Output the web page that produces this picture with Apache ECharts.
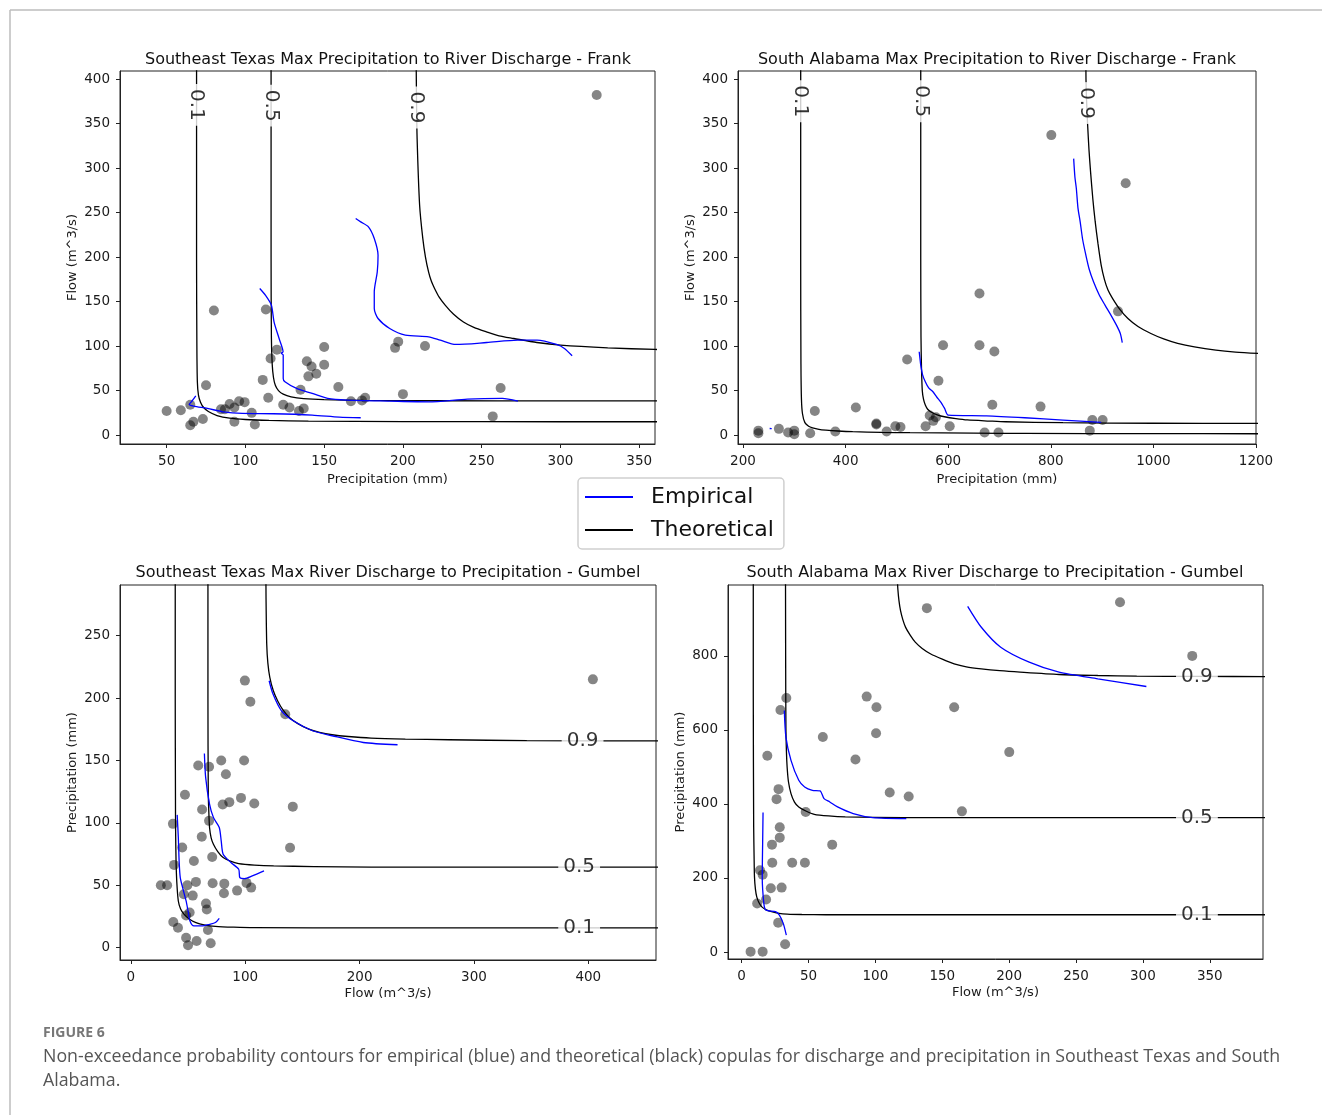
<!DOCTYPE html>
<html>
<head>
<meta charset="utf-8">
<title>Figure 6</title>
<script src="https://cdn.jsdelivr.net/npm/echarts@6/dist/echarts.min.js"></script>
<style>
    html, body { margin: 0; padding: 0; background: #fff; }
    #main { width: 1322px; height: 1115px; }
</style>
</head>
<body>
<div id="main"></div>
<script>
// tick labels
var txPrecipTicksX = [50, 100, 150, 200, 250, 300, 350];
var alPrecipTicksX = [200, 400, 600, 800, 1000, 1200];
var flowTicksY = [0, 50, 100, 150, 200, 250, 300, 350, 400];
var txFlowTicksX = [0, 100, 200, 300, 400];
var alFlowTicksX = [0, 50, 100, 150, 200, 250, 300, 350];
var txPrecipTicksY = [0, 50, 100, 150, 200, 250];
var alPrecipTicksY = [0, 200, 400, 600, 800];

// panel 1 : Southeast Texas, precipitation -> discharge (Frank)
var txFrankObs = [[323,382],[80,140],[113,141],[75,56],[50,27],[59,28],[65,34],[65,11],[67,15],[73,18],
    [84.5,29],[87,29],[90,35],[93,31],[93,15],[96,38],[99.5,37],[104,25],[106,12],[111,62],[114.5,42],
    [116,86],[120,96],[124,34],[128,31],[134,27],[137,30],[135,51],[139,83],[142,77],[140,66],[145,69],
    [150,99],[150,79],[159,54],[167,38],[174,39],[176,42],[195,98],[197,105],[214,100],[200,46],[257,21],[262,53]];
var txFrankTheo01 = [[69,420],[69,200],[69.2,100],[69.5,60],[70.2,45],[71.5,37],[73.5,31],[76.5,26.5],[82,22],
    [90,19],[100,17.5],[115,16.5],[140,15.7],[200,15.2],[300,15],[370,15]];
var txFrankTheo05 = [[116.3,420],[116.3,200],[116.5,110],[117,80],[117.8,65],[119,56],[121,50],[124,46],[129,43],
    [137,41],[150,39.8],[175,39],[220,38.6],[300,38.4],[370,38.4]];
var txFrankTheo09 = [[208.4,420],[208.6,380],[209,333],[210.6,258],[212.6,221],[214.3,200],[216.3,183],[218,173],
    [220,165],[223,155],[226.8,146],[232,136],[238.4,127],[245,121],[253,116],[261,111.5],[270.4,108.5],
    [285,104],[300,101],[330,98],[360,96.2],[370,96]];
var txFrankEmp01 = [[68.5,44],[66,38],[64.3,34.4],[67.2,32.6],[75.9,30],[85.7,26.2],[98,24.3],[117.7,24],
    [142.4,22.5],[159.6,20.2],[173.2,19.5]];
var txFrankEmp05 = [[109.1,164.7],[112.8,157],[116.5,146],[118.2,127],[121.4,108.5],[123.9,93.6],[122.8,92],
    [124,90],[124,63.6],[125.1,60],[132.5,52.4],[142.4,46.8],[152.2,41.2],[164.5,39.3],[191.6,38.2],
    [216.3,37.4],[240.9,40.4],[263.1,41.2],[273,38.2]];
var txFrankEmp09 = [[170,243.3],[173.2,239.5],[178.1,233.9],[181.8,220.8],[184.2,202],[183.7,183.4],[181.8,161],
    [181.8,142.2],[184.2,131],[191.6,119.8],[201.5,112.3],[216.3,110.4],[223.7,106.7],[233.5,101.8],
    [253.2,104],[272.9,106.7],[285.2,106.7],[297.5,101.8],[302.5,97.3],[307.4,89.1]];
var txFrankLabels = [[69,371,'0.1'],[116.3,370,'0.5'],[208.4,368,'0.9']];

// panel 2 : South Alabama, precipitation -> discharge (Frank)
var alFrankObs = [[801,337],[946,283],[931,139],[661,159],[661,101],[590,101],[690,94],[520,85],[581,61],
    [686,34],[780,32],[420,31],[340,27],[230,5],[230,2],[270,7],[288,3],[300,5],[300,1],[331,2],[380,4],
    [460,13],[460,12],[480,4],[497,10],[507,9],[556,10],[564,22],[571,16],[576,20],[603,10],[671,3],
    [698,3],[876,5],[881,17],[901,17]];
var alFrankTheo01 = [[312.5,420],[312.5,200],[313,80],[314,40],[316,24],[320.7,14],[328,10],[335.6,8.2],
    [348,6.5],[361.7,5.6],[385,4.6],[413.9,3.8],[470,3.1],[525.6,2.7],[650,2.2],[749.2,1.9],[1000,1.6],[1210,1.5]];
var alFrankTheo05 = [[546.5,420],[546.5,200],[547,110],[548,75],[549.5,50],[552,40],[555.4,33.7],[560,29],
    [566.6,26],[580,22.5],[592.7,20.6],[615,18.5],[637.4,17],[680,15.8],[711.9,15],[823.7,13.9],[1000,13.3],[1210,13.1]];
var alFrankTheo09 = [[868.4,420],[868.6,400],[869.5,380],[871.5,352],[874.5,320],[877.5,296],[882,265],[886.5,240],
    [892,215],[898.2,191],[904.5,175],[911.5,163],[920.6,153.4],[935,141],[950.4,131],[970,122],[995.1,114.1],
    [1020,108],[1047.2,103],[1080,99],[1121.8,95.4],[1160,93.3],[1210,91.6]];
var alFrankEmp01 = [[252,7.4],[256,7.2]];
var alFrankEmp05 = [[543.5,93.6],[545,86],[546.5,78.6],[550,68],[555.4,59.9],[562,53],[570.3,48.7],[578,42.5],
    [585.2,37.4],[593,30],[600.1,22.5],[674.7,21.7],[749.2,19.5],[823.7,16.8],[898.2,14.2]];
var alFrankEmp09 = [[844.6,310.6],[847,290],[849.8,277],[853,255],[857.3,239.5],[862,220],[868.4,202.1],
    [875,186],[883.3,172.2],[894,158],[905.7,146],[918,134],[928,123.5],[935.5,114.1],[939.3,104]];
var alFrankLabels = [[312.5,375,'0.1'],[546.5,375,'0.5'],[868.4,373,'0.9']];

// panel 3 : Southeast Texas, discharge -> precipitation (Gumbel)
var txGumbelObs = [[404,215],[99.7,214],[104.5,197],[135,187],[141.6,113],[139.2,80],[79,150],[99,150],
    [58.9,146],[68.4,145],[83.1,139],[47.3,122.5],[96.3,120],[86.1,116.6],[80.3,114.7],[107.9,115.5],
    [62.3,110.7],[68.4,101.6],[36.8,99.2],[62,88.8],[44.9,80.2],[71.1,72.7],[37.8,66.3],[55.1,69.5],
    [26.2,50],[31.7,50],[49.4,50],[56.9,52.7],[71.5,51.6],[81.7,51.3],[101.1,51.9],[105.2,48.1],[92.9,45.7],
    [81.4,43.6],[46.3,42.8],[54.1,41.7],[65.7,35.3],[66.4,30.5],[48.3,25.7],[51.4,28.1],[37.1,20.6],
    [41.2,16],[48.3,8],[50,1.9],[57.5,5.3],[67.4,14.2],[69.8,3.5]];
var txGumbelTheo01 = [[38.8,300],[38.8,200],[39,120],[39.1,96.3],[39.5,70],[40.2,52],[41.5,37.4],[43.5,31],
    [46.6,26.7],[51,23],[56.9,20.1],[64,18.3],[73.9,17.1],[90,16.4],[107.9,16],[210,15.8],[470,15.8]];
var txGumbelTheo05 = [[67.4,300],[67.4,200],[67.7,123],[68.2,108],[68.8,96.3],[70.2,88],[72.2,82.9],[76,77],
    [80.7,72.2],[87,69.3],[94.3,67.4],[108,66.2],[124.9,65.5],[160,65],[210,64.6],[470,64.5]];
var txGumbelTheo09 = [[118.1,300],[118.2,280],[118.8,243.3],[119.8,228],[121.5,216.6],[124.5,206],[128.3,197.9],
    [133,190.5],[138.6,184.5],[146,179.5],[155.6,175.1],[165,172.5],[176,170.6],[190,169.2],[210,167.9],
    [240,167.1],[278.1,166.6],[346.2,165.9],[470,165.6]];
var txGumbelEmp01 = [[40.5,106.4],[41.5,88.2],[42.2,69.5],[43.2,56.1],[46,45.5],[48.3,37.4],[50,29.4],[51.7,21.4],
    [55.1,17.4],[62,17.4],[68.8,18.7],[73.9,20.1],[77.3,23.5]];
var txGumbelEmp05 = [[64.3,155.6],[65.4,136.4],[68.8,115],[72.2,104.3],[77.3,96.3],[79,85.6],[80.7,74.9],
    [87.5,68.2],[94.3,62.8],[95.3,56.1],[99.4,55.3],[106.2,57.5],[116.4,61.5]];
var txGumbelEmp09 = [[120.9,213.9],[124.3,203.2],[131.7,189.8],[142,181.8],[158.9,173.8],[176,169.8],
    [203.2,164.4],[233.2,162.6]];
var txGumbelLabels = [[392,15.8,'0.1'],[392,64.6,'0.5'],[395,165.8,'0.9']];

// panel 4 : South Alabama, discharge -> precipitation (Gumbel)
var alGumbelObs = [[282.9,945],[138.5,929],[336.9,800],[93.5,690],[33.4,686],[100.8,661],[158.9,661],[29,654],
    [100.5,591],[60.7,581],[19.2,530],[85.1,520],[200.1,540],[110.7,431],[124.9,420],[27.6,440],[26.1,413],
    [47.9,378],[164.7,380],[28.5,337],[28.5,309],[22.7,290],[67.7,290],[22.9,241],[37.8,241],[47.3,241],
    [13.7,221],[15.7,209],[21.8,172],[29.9,174],[11.6,131],[18.3,142],[27.3,79],[32.5,21],[6.7,1],[15.7,1]];
var alGumbelTheo01 = [[8.7,1000],[8.7,700],[9,338],[9.3,260],[9.6,203],[10.3,170],[11.3,149],[13,133],[15.1,122],
    [18.5,114],[22.4,108.8],[28,104.5],[34,102.5],[45,101.3],[63,100.7],[179,100.6],[400,100.6]];
var alGumbelTheo05 = [[32.8,1000],[32.9,800],[33.1,607.6],[33.5,540],[34,499.8],[35,460],[36.9,427.9],[39.5,405],
    [42.7,391.9],[48,381],[54.3,372.1],[65,367.5],[77.5,364.9],[121,363.2],[237,363],[400,363]];
var alGumbelTheo09 = [[116.5,1000],[116.8,980],[117.6,950],[118.8,922],[120.5,898],[122.6,877],[126,856],[129.8,837],
    [135,820],[141.4,805],[150,791],[158.9,778.4],[168,770.5],[179.2,765],[193,760],[208.2,756],[237.3,749.7],
    [266.3,747],[295.4,745.2],[340,744.5],[400,744]];
var alGumbelEmp01 = [[16,376.6],[15.7,293],[15.4,203.1],[16.6,131.2],[18,113.3],[25.3,108.8],[28.2,99.8],
    [31.1,77.3],[33.4,45.8]];
var alGumbelEmp05 = [[31.9,652.6],[33.1,580.7],[36.9,517.8],[42.7,463.9],[47.1,445.8],[52.9,436.9],[58.7,435.1],
    [61.6,414.4],[65.9,405.4],[71.7,391.9],[83.4,373.9],[97.9,363.1],[123.1,360.4]];
var alGumbelEmp09 = [[169,933.9],[179.2,877.3],[193.7,823.4],[215,782.9],[237.3,755.9],[266.3,738],[302.6,717.3]];
var alGumbelLabels = [[340.4,100.7,'0.1'],[340.4,363,'0.5'],[340.4,744.5,'0.9']];

var BLUE = '#0000ff';
var BLACK = '#000000';
var FONT = 'DejaVu Sans';

function plainNum(v) {
    return String(v);
}

function axisX(idx, name, min, max, ticks, gap) {
    return {
        type: 'value', gridIndex: idx, min: min, max: max,
        name: name, nameLocation: 'middle', nameGap: gap,
        nameTextStyle: {fontFamily: FONT, fontSize: 13, color: '#1a1a1a'},
        axisLine: {show: true, onZero: false, lineStyle: {color: '#222', width: 1}},
        axisTick: {show: true, length: 4, customValues: ticks, lineStyle: {color: '#222'}},
        axisLabel: {customValues: ticks, formatter: plainNum, fontFamily: FONT, fontSize: 13.5, color: '#1a1a1a', margin: 10},
        splitLine: {show: false}
    };
}

function axisY(idx, name, min, max, ticks) {
    return {
        type: 'value', gridIndex: idx, min: min, max: max,
        name: name, nameLocation: 'middle', nameGap: 41,
        nameTextStyle: {fontFamily: FONT, fontSize: 13, color: '#1a1a1a'},
        axisLine: {show: true, onZero: false, lineStyle: {color: '#222', width: 1}},
        axisTick: {show: true, length: 4, customValues: ticks, lineStyle: {color: '#222'}},
        axisLabel: {customValues: ticks, formatter: plainNum, fontFamily: FONT, fontSize: 13.5, color: '#1a1a1a', margin: 10},
        splitLine: {show: false}
    };
}

function lineSeries(name, color, data, idx) {
    return {
        name: name, type: 'line', xAxisIndex: idx, yAxisIndex: idx,
        data: data, symbol: 'none', showSymbol: false, smooth: 0.25,
        lineStyle: {color: color, width: 1.3}, itemStyle: {color: color},
        silent: true, z: 3
    };
}

function obsSeries(data, idx) {
    return {
        name: 'Observed', type: 'scatter', xAxisIndex: idx, yAxisIndex: idx,
        data: data, symbolSize: 10,
        itemStyle: {color: 'rgba(0,0,0,0.6)'},
        silent: true, z: 2
    };
}

// contour level labels sit on the black line with a white box
function levelSeries(data, idx, rotate) {
    return {
        type: 'scatter', xAxisIndex: idx, yAxisIndex: idx,
        data: data, symbolSize: 1, itemStyle: {color: 'rgba(0,0,0,0)'},
        silent: true, z: 10,
        label: {
            show: true, position: 'inside', rotate: rotate,
            formatter: function (p) { return p.value[2]; },
            fontFamily: FONT, fontSize: 20, color: '#000',
            backgroundColor: '#fff', padding: [0, 5]
        }
    };
}

function panel(idx, obs, theo, emp, labels, rotate) {
    var arr = [obsSeries(obs, idx)];
    for (var i = 0; i < theo.length; i++) {
        arr.push(lineSeries('Theoretical', BLACK, theo[i], idx));
    }
    for (var i = 0; i < emp.length; i++) {
        arr.push(lineSeries('Empirical', BLUE, emp[i], idx));
    }
    arr.push(levelSeries(labels, idx, rotate));
    return arr;
}

function render() {
    var myChart = echarts.init(document.getElementById('main'));

    var seriesArr = []
        .concat(panel(0, txFrankObs, [txFrankTheo01, txFrankTheo05, txFrankTheo09],
            [txFrankEmp01, txFrankEmp05, txFrankEmp09], txFrankLabels, -90))
        .concat(panel(1, alFrankObs, [alFrankTheo01, alFrankTheo05, alFrankTheo09],
            [alFrankEmp01, alFrankEmp05, alFrankEmp09], alFrankLabels, -90))
        .concat(panel(2, txGumbelObs, [txGumbelTheo01, txGumbelTheo05, txGumbelTheo09],
            [txGumbelEmp01, txGumbelEmp05, txGumbelEmp09], txGumbelLabels, 0))
        .concat(panel(3, alGumbelObs, [alGumbelTheo01, alGumbelTheo05, alGumbelTheo09],
            [alGumbelEmp01, alGumbelEmp05, alGumbelEmp09], alGumbelLabels, 0));

    var titleStyle = {fontFamily: FONT, fontSize: 16, fontWeight: 'normal', color: '#111'};

    var option = {
        animation: false,
        backgroundColor: '#fff',
        title: [
            {text: 'Southeast Texas Max Precipitation to River Discharge - Frank', left: 388, top: 52, textAlign: 'center', padding: 0, textStyle: titleStyle},
            {text: 'South Alabama Max Precipitation to River Discharge - Frank', left: 997, top: 52, textAlign: 'center', padding: 0, textStyle: titleStyle},
            {text: 'Southeast Texas Max River Discharge to Precipitation - Gumbel', left: 388, top: 565, textAlign: 'center', padding: 0, textStyle: titleStyle},
            {text: 'South Alabama Max River Discharge to Precipitation - Gumbel', left: 995, top: 565, textAlign: 'center', padding: 0, textStyle: titleStyle}
        ],
        legend: {
            data: ['Empirical', 'Theoretical'],
            orient: 'vertical', left: 578, top: 478,
            icon: 'rect', itemWidth: 48, itemHeight: 2,
            padding: [8, 10, 8, 7], itemGap: 11,
            borderColor: '#cfcfcf', borderWidth: 1.5, borderRadius: 4,
            textStyle: {fontFamily: FONT, fontSize: 22, color: '#111', padding: [0, 0, 0, 13]},
            selectedMode: false
        },
        grid: [
            {left: 120, top: 71, width: 535, height: 373, show: true, borderColor: '#222', borderWidth: 1, backgroundColor: '#fff'},
            {left: 738, top: 71, width: 518, height: 373, show: true, borderColor: '#222', borderWidth: 1, backgroundColor: '#fff'},
            {left: 120, top: 585, width: 536, height: 375, show: true, borderColor: '#222', borderWidth: 1, backgroundColor: '#fff'},
            {left: 728, top: 585, width: 535, height: 374, show: true, borderColor: '#222', borderWidth: 1, backgroundColor: '#fff'}
        ],
        xAxis: [
            axisX(0, 'Precipitation (mm)', 20.4, 360, txPrecipTicksX, 29),
            axisX(1, 'Precipitation (mm)', 190.3, 1200, alPrecipTicksX, 29),
            axisX(2, 'Flow (m^3/s)', -9.5, 459.2, txFlowTicksX, 27),
            axisX(3, 'Flow (m^3/s)', -10.2, 389.8, alFlowTicksX, 27)
        ],
        yAxis: [
            axisY(0, 'Flow (m^3/s)', -10, 409, flowTicksY),
            axisY(1, 'Flow (m^3/s)', -10, 409, flowTicksY),
            axisY(2, 'Precipitation (mm)', -9.9, 290.6, txPrecipTicksY),
            axisY(3, 'Precipitation (mm)', -18.9, 991.5, alPrecipTicksY)
        ],
        series: seriesArr,
        graphic: [
            {type: 'line', shape: {x1: 10, y1: 10, x2: 1322, y2: 10}, style: {stroke: '#bdbdbd', lineWidth: 1.5}},
            {type: 'line', shape: {x1: 10, y1: 10, x2: 10, y2: 1115}, style: {stroke: '#bdbdbd', lineWidth: 1.5}},
            {type: 'text', left: 43, top: 1026, style: {text: 'FIGURE 6', font: 'bold 14px "Open Sans"', fill: '#777'}},
            {type: 'text', left: 43, top: 1045, style: {
                text: 'Non-exceedance probability contours for empirical (blue) and theoretical (black) copulas for discharge and precipitation in Southeast Texas and South\nAlabama.',
                font: '17.8px "Open Sans"', lineHeight: 24, fill: '#555'
            }}
        ]
    };

    myChart.setOption(option);
}

render();
</script>
</body>
</html>
